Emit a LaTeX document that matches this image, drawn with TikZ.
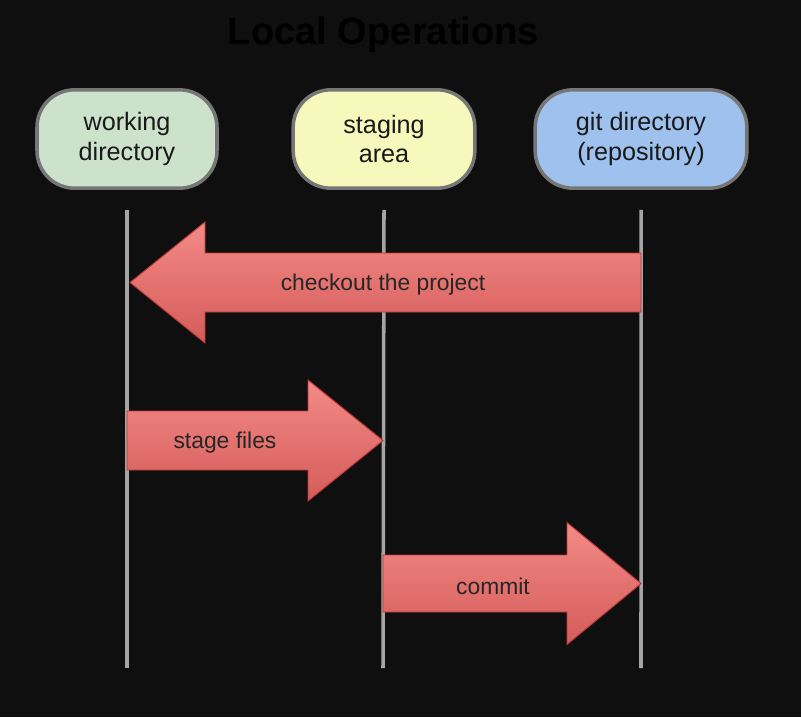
\documentclass[tikz,border=0pt]{standalone}
\usepackage{fontspec}
\setmainfont{Liberation Sans}
\usepackage{tikz}
\usetikzlibrary{positioning,calc}
\usetikzlibrary{shapes}
\usepackage{xcolor}
\definecolor{mybg}{RGB}{15,15,15}
\definecolor{mygreen}{RGB}{205,226,203}
\definecolor{myyellow}{RGB}{247,248,187}
\definecolor{myblue}{RGB}{158,193,237}
\definecolor{myborder}{RGB}{118,118,118}
\definecolor{mylife}{RGB}{165,165,165}
\definecolor{myredtop}{RGB}{243,138,134}
\definecolor{myredbot}{RGB}{212,92,90}
\definecolor{myredline}{RGB}{185,55,55}
\tikzstyle{area}=[rectangle, rounded corners=32pt, draw=myborder, line width=3pt, minimum height=2.95cm, align=center, text=black!90, font=\fontsize{21.5}{25.5}\selectfont]
\tikzstyle{area_work}=[area, fill=mygreen, minimum width=5.4cm]
\tikzstyle{area_stage}=[area, fill=myyellow, minimum width=5.45cm]
\tikzstyle{area_git}=[area, fill=myblue, minimum width=6.35cm]
\tikzstyle{lifeline}=[line width=3pt, mylife]
\tikzstyle{fat arrow}=[draw=myredline, line width=0.8pt, top color=myredtop, bottom color=myredbot]
\tikzstyle{op}=[text=black!85, font=\fontsize{19.5}{22}\selectfont]

\begin{document}
\begin{tikzpicture}[
    x=0.03cm, y=-0.03cm,
    node distance=7.71cm,
    on grid]

\useasboundingbox[fill=mybg] (0,0) rectangle (801,717);

\node[font=\bfseries\fontsize{32.5}{36}\selectfont, text=black, anchor=base] (title) at (383.5,44) {Local Operations};

% Areas
\node[area_work] (wd) at (127,139) {working\\directory};
\node[area_stage] (stage) [right=of wd] {staging\\area};
\node[area_git] (git) [right=of stage] {git directory\\(repository)};

% Lifelines
\coordinate (wd_end) at (127,668);
\coordinate (stage_end) at (383,668);
\coordinate (git_end) at (641,668);
\draw[lifeline] ($(wd.south)+(0,20)$) -- (wd_end);
\draw[lifeline] ($(stage.south)+(0,20)$) -- (stage_end);
\draw[lifeline] ($(git.south)+(0,20)$) -- (git_end);

% Operations
\coordinate (co_tail) at (641,282.5);
\coordinate (co_tip) at (130,282.5);
\coordinate (sf_tail) at (127,440.5);
\coordinate (sf_tip) at (383,440.5);
\coordinate (cm_tail) at (383,583.5);
\coordinate (cm_tip) at (641,583.5);

\draw[fat arrow] ($(co_tail)+(0,-29.5)$) -- ($(co_tip)+(75,-29.5)$) -- ($(co_tip)+(75,-60.5)$) -- (co_tip)
    -- ($(co_tip)+(75,60.5)$) -- ($(co_tip)+(75,29.5)$) -- ($(co_tail)+(0,29.5)$) -- cycle;
\draw[fat arrow] ($(sf_tail)+(0,-29.5)$) -- ($(sf_tip)+(-75,-29.5)$) -- ($(sf_tip)+(-75,-60.5)$) -- (sf_tip)
    -- ($(sf_tip)+(-75,60.5)$) -- ($(sf_tip)+(-75,29.5)$) -- ($(sf_tail)+(0,29.5)$) -- cycle;
\draw[fat arrow] ($(cm_tail)+(0,-28.5)$) -- ($(cm_tip)+(-74,-28.5)$) -- ($(cm_tip)+(-74,-61)$) -- (cm_tip)
    -- ($(cm_tip)+(-74,61)$) -- ($(cm_tip)+(-74,28.5)$) -- ($(cm_tail)+(0,28.5)$) -- cycle;

\node[op] (co_label) at (383,285) {checkout the project};
\node[op] (sf_label) at (225,443) {stage files};
\node[op] (cm_label) at (493,586) {commit};

\end{tikzpicture}
\end{document}
